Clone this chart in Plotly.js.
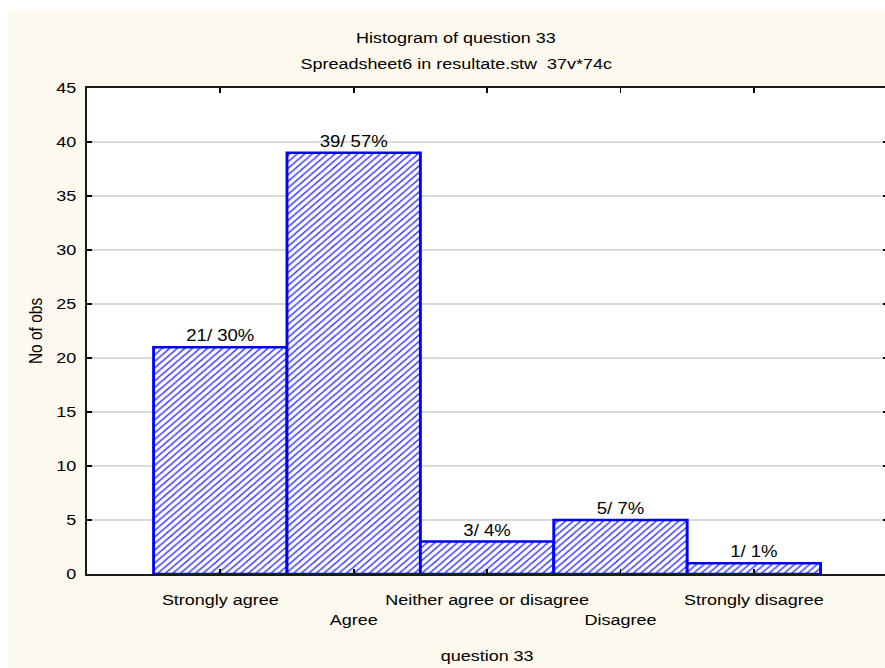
<!DOCTYPE html>
<html>
<head>
<meta charset="utf-8">
<script src="https://cdn.plot.ly/plotly-3.0.1.min.js"></script>
<style>
  html, body { margin: 0; padding: 0; background: #ffffff; overflow: hidden; width: 885px; height: 668px; }
  #chart { position: absolute; left: 8px; top: 10px; width: 759px; height: 658px;
           transform: scaleX(1.16); transform-origin: 0 0; }
</style>
</head>
<body>
<div id="chart"></div>
<script>
// ---- data ----
const categories = ["Strongly agree", "Agree", "Neither agree or disagree", "Disagree", "Strongly disagree"];
const counts = [21, 39, 3, 5, 1];
const percents = [30, 57, 4, 7, 1];
const yTickVals = [0, 5, 10, 15, 20, 25, 30, 35, 40, 45];
const chartTitle = "Histogram of question 33";
const chartSubtitle = "Spreadsheet6 in resultate.stw\u00a0\u00a037v*74c";
const xTitle = "question 33";
const yTitle = "No of obs";

// ---- derived ----
const xPos = categories.map((_, i) => i);
const barLabels = counts.map((c, i) => c + "/ " + percents[i] + "%");
const tickText = categories.map((c, i) => (i % 2 === 1 ? "\u00a0<br>" + c : c));

const FONT = "Arial, 'Liberation Sans', sans-serif";
const FS = 15.5;

const trace = {
  type: "bar",
  x: xPos,
  y: counts,
  width: 1,
  text: barLabels,
  textposition: "outside",
  cliponaxis: false,
  textfont: { family: FONT, size: 16, color: "#000000" },
  marker: {
    color: "#ffffff",
    line: { color: "#0000ff", width: 2.5 },
    pattern: { shape: "/", fgcolor: "#3a3aff", bgcolor: "#ffffff", size: 4.6, solidity: 0.32 }
  },
  hoverinfo: "skip"
};

const layout = {
  width: 759,
  height: 658,
  margin: { l: 68, r: 1, t: 78, b: 94 },
  paper_bgcolor: "#fef9ee",
  plot_bgcolor: "#ffffff",
  showlegend: false,
  bargap: 0,
  font: { family: FONT, size: FS, color: "#000000" },
  xaxis: {
    range: [-1, 5],
    tickmode: "array",
    tickvals: xPos,
    ticktext: tickText,
    tickangle: 0,
    automargin: false,
    ticks: "inside",
    ticklen: 5,
    tickwidth: 1.5,
    tickcolor: "#000000",
    showline: true,
    linecolor: "#1a1a1a",
    linewidth: 2,
    mirror: "ticks",
    showgrid: false,
    zeroline: false,
    ticklabelstandoff: 10,
    tickfont: { family: FONT, size: FS, color: "#000000" }
  },
  yaxis: {
    range: [0, 45],
    tickmode: "array",
    tickvals: yTickVals,
    ticktext: yTickVals.map(String),
    automargin: false,
    ticks: "inside",
    ticklen: 4,
    tickwidth: 1.5,
    tickcolor: "#000000",
    showline: true,
    linecolor: "#1a1a1a",
    linewidth: 2,
    mirror: "ticks",
    showgrid: true,
    gridcolor: "#d9d9d9",
    gridwidth: 1.5,
    zeroline: false,
    ticklabelstandoff: 4,
    tickfont: { family: FONT, size: FS, color: "#000000" }
  },
  annotations: [
    { text: chartTitle, xref: "paper", yref: "paper", x: 0.461, y: 1.103, xanchor: "center", yanchor: "middle",
      showarrow: false, font: { family: FONT, size: FS, color: "#000000" } },
    { text: chartSubtitle, xref: "paper", yref: "paper", x: 0.461, y: 1.051, xanchor: "center", yanchor: "middle",
      showarrow: false, font: { family: FONT, size: FS, color: "#000000" } },
    { text: xTitle, xref: "paper", yref: "paper", x: 0.5, y: -0.167, xanchor: "center", yanchor: "middle",
      showarrow: false, font: { family: FONT, size: FS, color: "#000000" } },
    { text: yTitle, xref: "paper", yref: "paper", x: -0.065, y: 0.5, xanchor: "center", yanchor: "middle",
      textangle: -90, showarrow: false, font: { family: FONT, size: FS, color: "#000000" } }
  ]
};

Plotly.newPlot("chart", [trace], layout, { staticPlot: true, displayModeBar: false });
</script>
</body>
</html>
